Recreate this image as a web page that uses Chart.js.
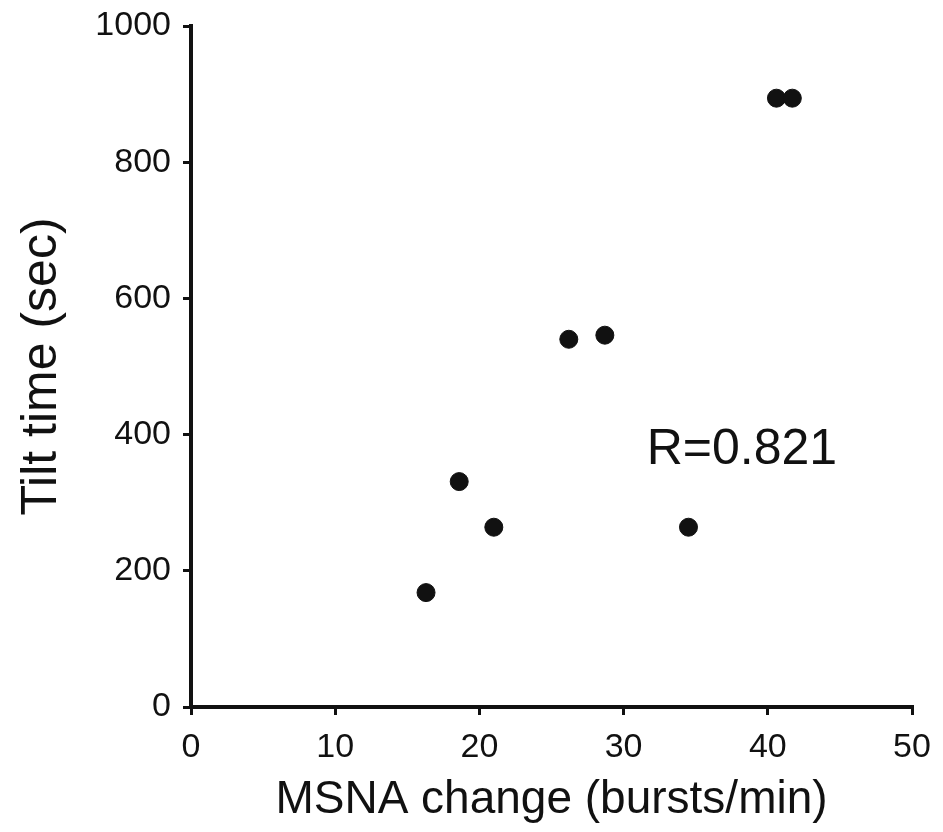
<!DOCTYPE html>
<html>
<head>
<meta charset="utf-8">
<script src="https://cdn.jsdelivr.net/npm/chart.js@4.4.1/dist/chart.umd.min.js"></script>
<style>
  html, body { margin: 0; padding: 0; background: #fff; }
  #wrap { width: 943px; height: 832px; }
</style>
</head>
<body>
<div id="wrap"><canvas id="scatter"></canvas></div>
<script>
// MSNA change vs tilt time
const msnaChange = [16.3, 18.6, 21.0, 26.2, 28.7, 34.5, 40.6, 41.7];
const tiltTime   = [168, 331, 264, 540, 546, 264, 894, 894];
const xTicks = [0, 10, 20, 30, 40, 50];
const yTicks = [0, 200, 400, 600, 800, 1000];
const rLabel = 'R=0.821';
const rLabelAt = { x: 31.6, y: 377 };

const FONT = '"Liberation Sans", Arial, Helvetica, sans-serif';
const INK = '#111';

const points = msnaChange.map((x, i) => ({ x, y: tiltTime[i] }));

// R value written inside the plot
const rLabelPlugin = {
    id: 'rLabel',
    afterDatasetsDraw(chart) {
        const { ctx, scales: { x, y } } = chart;
        ctx.save();
        ctx.font = `50px ${FONT}`;
        ctx.fillStyle = INK;
        ctx.textAlign = 'left';
        ctx.textBaseline = 'middle';
        ctx.fillText(rLabel, x.getPixelForValue(rLabelAt.x), y.getPixelForValue(rLabelAt.y));
        ctx.restore();
    }
};

new Chart(document.getElementById('scatter'), {
    type: 'scatter',
    data: {
        datasets: [{
            data: points,
            backgroundColor: INK,
            borderColor: INK,
            pointRadius: 9,
            pointHoverRadius: 9,
        }]
    },
    options: {
        responsive: true,
        maintainAspectRatio: false,
        animation: false,
        layout: { padding: { top: 26, right: 31, bottom: 0, left: 0 } },
        plugins: { legend: { display: false }, tooltip: { enabled: false } },
        scales: {
            x: {
                type: 'linear',
                min: 0, max: 50,
                afterBuildTicks: s => { s.ticks = xTicks.map(v => ({ value: v })); },
                afterFit: s => { s.height = 125; s.paddingLeft = 0; s.paddingRight = 0; },
                border: { display: true, color: INK, width: 4 },
                grid: { display: true, drawOnChartArea: false, drawTicks: true, tickLength: 8, color: INK, lineWidth: 3 },
                ticks: { color: INK, padding: 12, font: { family: FONT, size: 34 }, callback: v => String(v) },
                title: { display: true, text: 'MSNA change (bursts/min)', color: INK, padding: { top: 0, bottom: 4 }, font: { family: FONT, size: 46 } }
            },
            y: {
                type: 'linear',
                min: 0, max: 1000,
                afterBuildTicks: s => { s.ticks = yTicks.map(v => ({ value: v })); },
                afterFit: s => { s.width = 191; s.paddingTop = 0; s.paddingBottom = 0; },
                border: { display: true, color: INK, width: 4 },
                grid: { display: true, drawOnChartArea: false, drawTicks: true, tickLength: 8, color: INK, lineWidth: 3 },
                ticks: { color: INK, padding: 12, font: { family: FONT, size: 34 }, callback: v => String(v) },
                title: { display: true, text: 'Tilt time (sec)', color: INK, padding: { top: 12, bottom: 0 }, font: { family: FONT, size: 50 } }
            }
        }
    },
    plugins: [rLabelPlugin]
});
</script>
</body>
</html>
